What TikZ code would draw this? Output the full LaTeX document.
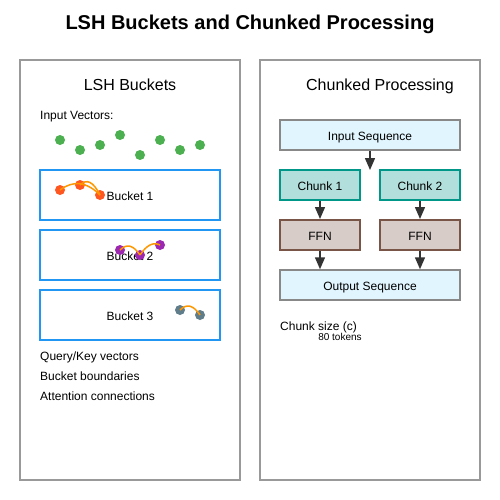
\documentclass[tikz,border=0pt]{standalone}
\usepackage{fontspec}
\setmainfont{Liberation Sans}
\usetikzlibrary{arrows.meta}
\definecolor{panelgray}{HTML}{999999}
\definecolor{vgreen}{HTML}{4CAF50}
\definecolor{bblue}{HTML}{2196F3}
\definecolor{dred}{HTML}{FF5722}
\definecolor{dpurple}{HTML}{9C27B0}
\definecolor{dgrey}{HTML}{607D8B}
\definecolor{corange}{HTML}{FF9800}
\definecolor{seqfill}{HTML}{E1F5FE}
\definecolor{seqdraw}{HTML}{888888}
\definecolor{chfill}{HTML}{B2DFDB}
\definecolor{chdraw}{HTML}{009688}
\definecolor{ffnfill}{HTML}{D7CCC8}
\definecolor{ffndraw}{HTML}{795548}
\definecolor{arr}{HTML}{333333}
\tikzset{
  panel/.style={draw=panelgray, line width=1.5pt, fill=white},
  bucketbox/.style={draw=bblue, line width=2pt},
  dot/.style={circle, minimum size=10pt, inner sep=0pt},
  conn/.style={draw=corange, line width=1.5pt},
  lbl/.style={font=\fontsize{12}{14}\selectfont, inner sep=0pt, text height=10pt, text depth=0pt},
  hdr/.style={font=\fontsize{16}{19}\selectfont, inner sep=0pt, text height=11.5pt, text depth=0pt},
  boxtext/.style={minimum width=80pt, minimum height=30pt, inner sep=0pt, font=\fontsize{12}{14}\selectfont, text height=10pt, text depth=0pt},
  seqbox/.style={boxtext, draw=seqdraw, line width=1.5pt, fill=seqfill, minimum width=180pt},
  chunkbox/.style={boxtext, draw=chdraw, line width=2pt, fill=chfill},
  ffnbox/.style={boxtext, draw=ffndraw, line width=2pt, fill=ffnfill},
  flow/.style={draw=arr, line width=1.5pt, -{Triangle[width=10pt,length=12pt]}},
}
\begin{document}
\begin{tikzpicture}[x=1pt,y=-1pt]
\useasboundingbox (0,0) rectangle (500,500);
\node[font=\bfseries\fontsize{20}{24}\selectfont, inner sep=0pt, text height=14.3pt, text depth=0pt] (title) at (250,22) {LSH Buckets and Chunked Processing};
% panels
\draw[panel] (20,60) rectangle (240,480);
\draw[panel] (260,60) rectangle (480,480);
\node[hdr] (lhdr) at (130,85) {LSH Buckets};
\node[hdr] (rhdr) at (380,85) {Chunked Processing};
% left
\node[lbl, anchor=west] (iv) at (40,115) {Input Vectors:};
\foreach \x/\y [count=\i] in {60/140,80/150,100/145,120/135,140/155,160/140,180/150,200/145}
  \node[dot, fill=vgreen] (g\i) at (\x,\y) {};
\draw[bucketbox] (40,170) rectangle (220,220);
\draw[bucketbox] (40,230) rectangle (220,280);
\draw[bucketbox] (40,290) rectangle (220,340);
\node[lbl] (b1) at (130,195) {Bucket 1};
\node[lbl] (b2) at (130,255) {Bucket 2};
\node[lbl] (b3) at (130,315) {Bucket 3};
% bucket 1
\node[dot, fill=dred] (r1) at (60,190) {};
\node[dot, fill=dred] (r2) at (80,185) {};
\node[dot, fill=dred] (r3) at (100,195) {};
\draw[conn] (r1.center) .. controls (73.33,180) and (86.67,181.67) .. (r3.center);
\draw[conn] (r2.center) .. controls (86.67,178.33) and (93.33,181.67) .. (r3.center);
% bucket 2
\node[dot, fill=dpurple] (p1) at (120,250) {};
\node[dot, fill=dpurple] (p2) at (140,255) {};
\node[dot, fill=dpurple] (p3) at (160,245) {};
\draw[conn] (p1.center) .. controls (126.67,243.33) and (133.33,245) .. (p2.center);
\draw[conn] (p2.center) .. controls (146.67,245) and (153.33,241.67) .. (p3.center);
% bucket 3
\node[dot, fill=dgrey] (q1) at (180,310) {};
\node[dot, fill=dgrey] (q2) at (200,315) {};
\draw[conn] (q1.center) .. controls (186.67,303.33) and (193.33,305) .. (q2.center);
% legend
\node[lbl, anchor=west] (l1) at (40,355) {Query/Key vectors};
\node[lbl, anchor=west] (l2) at (40,375) {Bucket boundaries};
\node[lbl, anchor=west] (l3) at (40,395) {Attention connections};
% right
\node[seqbox] (in) at (370,135) {Input Sequence};
\node[chunkbox] (c1) at (320,185) {Chunk 1};
\node[chunkbox] (c2) at (420,185) {Chunk 2};
\node[ffnbox] (f1) at (320,235) {FFN};
\node[ffnbox] (f2) at (420,235) {FFN};
\node[seqbox] (out) at (370,285) {Output Sequence};
\coordinate (gap) at (370,170);
\draw[flow] (in.south) -- (gap);
\draw[flow] (c1.south) -- (f1.north);
\draw[flow] (c2.south) -- (f2.north);
\draw[flow] (f1.south) -- (f1.south |- out.north);
\draw[flow] (f2.south) -- (f2.south |- out.north);
\node[lbl, anchor=west] (cs) at (280,325) {Chunk size (c)};
\node[font=\fontsize{10}{12}\selectfont, inner sep=0pt, text height=7.2pt, text depth=0pt] (tok) at (340,337) {80 tokens};
\end{tikzpicture}
\end{document}
